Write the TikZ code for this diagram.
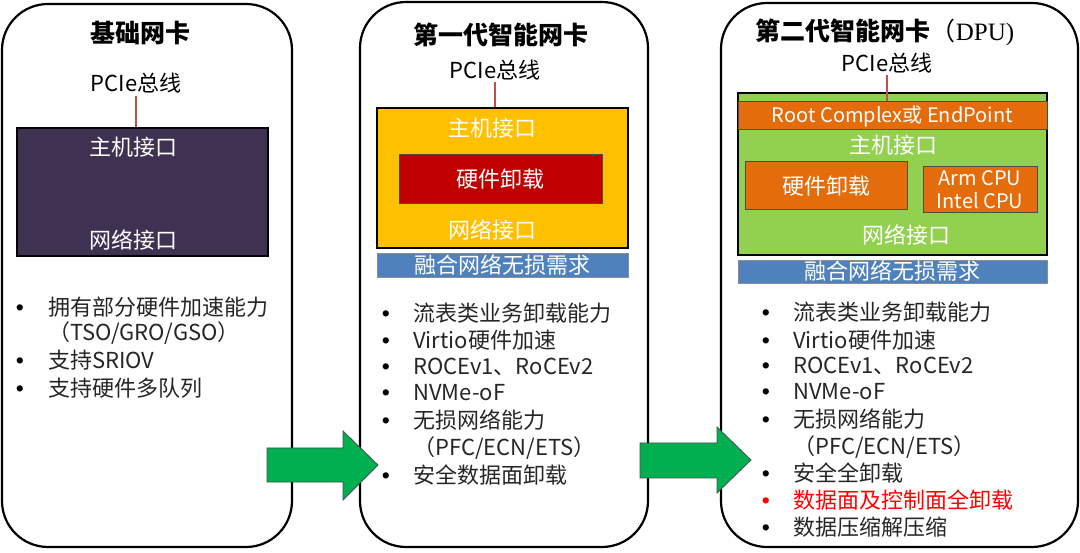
\documentclass[tikz,border=0pt]{standalone}
\usepackage{fontspec}
\setmainfont{Noto Sans CJK SC}
\newfontfamily\dpufont{Liberation Serif}
\newfontfamily\bulfont{Liberation Sans}
\begin{document}
\begin{tikzpicture}[x=1pt,y=-1pt,
  panel/.style={draw=black,line width=2.2pt,rounded corners=46pt,minimum width=#1,inner sep=0pt,fill=white},
  box/.style={draw=black,line width=1.6pt,inner sep=0pt},
  inbox/.style={draw=black!70,line width=1pt,inner sep=0pt},
  bar/.style={draw=black!45,line width=0.8pt,fill=barblue,inner sep=0pt},
  txt/.style={font=\fontsize{22}{26}\selectfont,inner sep=0pt},
  wtxt/.style={txt,text=white},
  ttl/.style={font=\fontsize{25}{28}\selectfont\bfseries,inner sep=0pt},
  itm/.style={txt,anchor=west,text=black!85},
  bul/.style={font=\bulfont\fontsize{23}{26}\selectfont,inner sep=0pt,text=black,anchor=base},
  pcieline/.style={draw=pcred,line width=2pt},
  bigarrow/.style={fill=arrgreen,draw=black!70,line width=0.8pt}
]
\definecolor{purplebox}{HTML}{3F3151}
\definecolor{yellowbox}{HTML}{FFC000}
\definecolor{redbox}{HTML}{C00000}
\definecolor{barblue}{HTML}{4F81BD}
\definecolor{greenbox}{HTML}{92D050}
\definecolor{orangebox}{HTML}{E46C0A}
\definecolor{arrgreen}{HTML}{00B050}
\definecolor{pcred}{HTML}{C0504D}
\useasboundingbox (0,0) rectangle (1080,553);

% panels
\node[panel=290pt,minimum height=543pt] (p1) at (147,275.5) {};
\node[panel=288pt,minimum height=545pt] (p2) at (504,274.5) {};
\node[panel=357pt,minimum height=544pt] (p3) at (899.5,275) {};

% ---------- panel 1 ----------
\node[ttl] (t1) at (140,33) {基础网卡};
\node[txt] (pc1) at (136,83) {PCIe总线};
\node[box,fill=purplebox,minimum width=251pt,minimum height=128pt] (b1) at (142.5,192) {};
\draw[pcieline] ([yshift=-3pt]pc1.south) -- (pc1.south |- b1.north);
\node[wtxt] (h1) at (133,147) {主机接口};
\node[wtxt] (n1) at (133,240) {网络接口};

\node[itm] (l11) at (48,307) {拥有部分硬件加速能力};
\node[itm] (l12) at (48,333) {（TSO/GRO/GSO）};
\node[itm] (l13) at (48,360) {支持SRIOV};
\node[itm] (l14) at (48,388) {支持硬件多队列};
\node[bul] (d11) at (l11.base -| 20,0) {•};
\node[bul] (d13) at (l13.base -| 20,0) {•};
\node[bul] (d14) at (l14.base -| 20,0) {•};

% ---------- panel 2 ----------
\node[ttl] (t2) at (501,35) {第一代智能网卡};
\node[txt] (pc2) at (495,70) {PCIe总线};
\node[box,fill=yellowbox,minimum width=251pt,minimum height=140pt] (b2) at (502.5,178) {};
\draw[pcieline] ([yshift=-2pt]pc2.south) -- (pc2.south |- b2.north);
\node[wtxt] (h2) at (492,128) {主机接口};
\node[inbox,fill=redbox,minimum width=203pt,minimum height=49pt] (hw2) at (500.5,179.5) {};
\node[wtxt] (hwt2) at (hw2) {硬件卸载};
\node[wtxt] (n2) at (492,230) {网络接口};
\node[bar,minimum width=251pt,minimum height=24pt] (bb2) at (502.5,265) {};
\node[wtxt] (bbt2) at (bb2) {融合网络无损需求};

\node[itm] (l21) at (413,313) {流表类业务卸载能力};
\node[itm] (l22) at (413,340) {Virtio硬件加速};
\node[itm] (l23) at (413,367) {ROCEv1、RoCEv2};
\node[itm] (l24) at (413,393) {NVMe-oF};
\node[itm] (l25) at (413,420) {无损网络能力};
\node[itm] (l26) at (413,448) {（PFC/ECN/ETS）};
\node[itm] (l27) at (413,475) {安全数据面卸载};
\foreach \i in {1,2,3,4,5,7}{\node[bul] (d2\i) at (l2\i.base -| 386,0) {•};}

% ---------- panel 3 ----------
\node[font=\fontsize{25}{28}\selectfont,inner sep=0pt] (t3) at (885,32) {{\bfseries 第二代智能网卡}（{\dpufont DPU)}};
\node[txt] (pc3) at (887,63) {PCIe总线};
\node[box,fill=greenbox,minimum width=309pt,minimum height=162pt] (b3) at (892.5,174) {};
\node[inbox,fill=orangebox,minimum width=309pt,minimum height=28pt] (rc3) at (892.5,116) {};
\node[wtxt,font=\fontsize{20}{24}\selectfont] (rct3) at (rc3) {Root Complex或 EndPoint};
\draw[pcieline] ([yshift=-2pt]pc3.south) -- (pc3.south |- rc3.north);
\node[wtxt] (h3) at (893,145) {主机接口};
\node[inbox,fill=orangebox,minimum width=162pt,minimum height=48pt] (hw3) at (826,186) {};
\node[wtxt] (hwt3) at (hw3) {硬件卸载};
\node[inbox,fill=orangebox,minimum width=114pt,minimum height=46pt] (cpu3) at (980,190) {};
\node[wtxt,font=\fontsize{20}{23}\selectfont,align=center] (cput3) at (cpu3) {Arm CPU\\Intel CPU};
\node[wtxt] (n3) at (906,235) {网络接口};
\node[bar,minimum width=309pt,minimum height=23pt] (bb3) at (892.5,271.5) {};
\node[wtxt] (bbt3) at (bb3) {融合网络无损需求};

\node[itm] (l31) at (793,312) {流表类业务卸载能力};
\node[itm] (l32) at (793,340) {Virtio硬件加速};
\node[itm] (l33) at (793,366) {ROCEv1、RoCEv2};
\node[itm] (l34) at (793,392) {NVMe-oF};
\node[itm] (l35) at (793,419) {无损网络能力};
\node[itm] (l36) at (793,447) {（PFC/ECN/ETS）};
\node[itm] (l37) at (793,473) {安全全卸载};
\node[itm,text=red] (l38) at (793,500) {数据面及控制面全卸载};
\node[itm] (l39) at (793,527) {数据压缩解压缩};
\foreach \i in {1,2,3,4,5,7,9}{\node[bul] (d3\i) at (l3\i.base -| 766,0) {•};}
\node[bul,text=red] (d38) at (l38.base -| 766,0) {•};

% ---------- arrows ----------
\draw[bigarrow] (267,448) -- (343,448) -- (343,431) -- (378,465) -- (343,500) -- (343,482) -- (267,482) -- cycle;
\draw[bigarrow] (640,443) -- (717,443) -- (717,427) -- (751,460) -- (717,493) -- (717,478) -- (640,478) -- cycle;
\end{tikzpicture}
\end{document}
